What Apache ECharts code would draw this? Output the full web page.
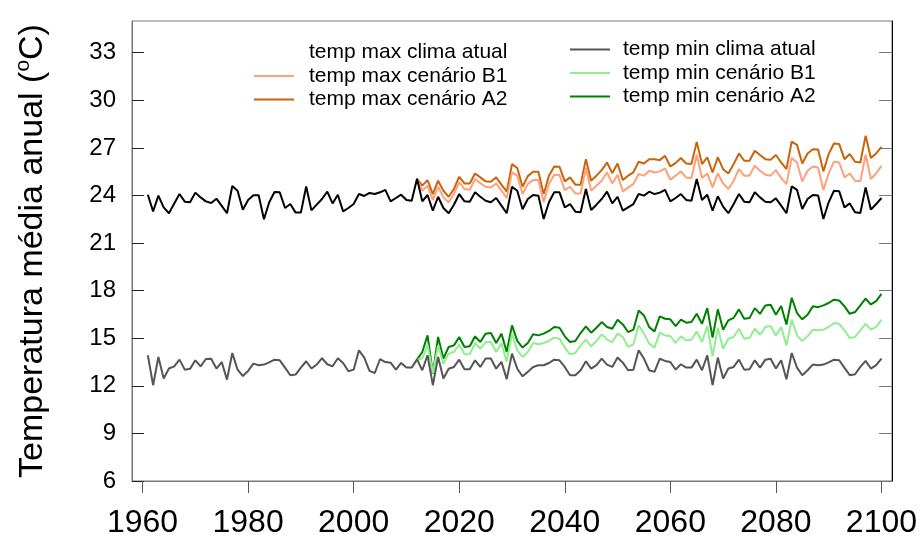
<!DOCTYPE html>
<html>
<head>
<meta charset="utf-8">
<script src="https://cdn.jsdelivr.net/npm/echarts@6/dist/echarts.min.js"></script>
<style>
  html, body { margin: 0; padding: 0; background: #ffffff; }
  #container { width: 921px; height: 542px; }
</style>
</head>
<body>
<div id="container"></div>
<script>
// anos: clima atual de 1961 a 2100, cenarios de 2012 a 2100
var firstYear = 1961;
var scenarioStart = 2012;

var xTicks = [1960, 1980, 2000, 2020, 2040, 2060, 2080, 2100];
var yTicks = [6, 9, 12, 15, 18, 21, 24, 27, 30, 33];

var tmaxAtual = [
    24.05, 23.0, 23.99, 23.25, 22.88, 23.5, 24.09, 23.61, 23.57, 24.18, 23.88, 23.63, 23.53, 23.8, 23.34, 22.88,
    24.6, 24.3, 23.1, 23.72, 24.01, 24.01, 22.5, 23.57, 24.22, 24.2, 23.21, 23.46, 22.92, 22.92, 24.57, 23.06,
    23.42, 23.78, 24.24, 23.5, 24.05, 23.0, 23.21, 23.46, 24.09, 23.97, 24.16, 24.09, 24.2, 24.35, 23.63, 23.84,
    24.05, 23.72, 23.67, 25.05,
    23.63, 24.03, 23.04, 23.92, 23.21, 22.88, 23.42, 24.09, 23.63, 23.61, 24.2, 23.92, 23.67, 23.57, 23.84, 23.36,
    22.88, 24.55, 24.3, 23.13, 23.78, 24.03, 23.99, 22.52, 23.57, 24.2, 24.2, 23.25, 23.46, 22.98, 22.94, 24.41,
    23.09, 23.42, 23.78, 24.24, 23.5, 23.92, 23.04, 23.25, 23.46, 24.09, 23.99, 24.24,
    24.09, 24.18, 24.35, 23.63, 23.84, 24.09, 23.72, 23.67, 25.04, 23.72, 24.05, 23.04, 23.95, 23.3, 22.88, 23.46,
    24.09, 23.61, 23.57, 24.2, 23.88, 23.61, 23.57, 23.82, 23.36, 22.88, 24.57, 24.35, 23.15, 23.78, 24.03, 24.0,
    22.52, 23.57, 24.3, 24.26, 23.25, 23.5, 22.94, 22.9, 24.51, 23.11, 23.46, 23.84
];
var tmaxB1 = [
    25.04, 24.30, 24.62, 23.72, 24.55, 23.88, 23.57, 24.09, 24.83, 24.41, 24.36, 25.04, 24.78, 24.55, 24.51, 24.76,
    24.30, 23.84, 25.46, 25.25, 24.09, 24.72, 24.97, 24.97, 23.57, 24.72, 25.31, 25.29, 24.34, 24.55, 24.13, 24.13,
    25.73, 24.30, 24.62, 24.93, 25.46, 24.76, 25.31, 24.26, 24.51, 24.72, 25.35, 25.25, 25.56,
    25.45, 25.52, 25.71, 24.99, 25.25, 25.52, 25.14, 25.10, 26.57, 25.10, 25.39, 24.51, 25.39, 24.76, 24.41, 24.93,
    25.66, 25.25, 25.25, 25.87, 25.56, 25.31, 25.25, 25.60, 25.10, 24.72, 26.36, 26.08, 24.89, 25.56, 25.83, 25.77,
    24.34, 25.39, 26.13, 26.08, 25.14, 25.39, 24.93, 24.89, 26.57, 25.04, 25.39, 25.87
];
var tmaxA2 = [
    25.04, 24.62, 24.97, 24.09, 24.93, 24.30, 23.92, 24.41, 25.18, 24.76, 24.76, 25.39, 25.14, 24.89, 24.87, 25.14,
    24.68, 24.24, 25.98, 25.73, 24.55, 25.22, 25.50, 25.50, 24.09, 25.25, 25.83, 25.81, 24.89, 25.14, 24.68, 24.68,
    26.29, 24.93, 25.25, 25.60, 26.08, 25.41, 26.02, 24.97, 25.25, 25.46, 26.13, 26.02, 26.29,
    26.29, 26.23, 26.50, 25.83, 26.04, 26.36, 26.02, 25.98, 27.38, 25.98, 26.40, 25.45, 26.40, 25.66, 25.39, 25.98,
    26.65, 26.19, 26.19, 26.82, 26.55, 26.29, 26.25, 26.55, 26.08, 25.66, 27.40, 27.19, 26.02, 26.65, 26.92, 26.90,
    25.52, 26.61, 27.28, 27.24, 26.29, 26.61, 26.13, 26.08, 27.76, 26.36, 26.65, 27.07
];
var tminAtual = [
    13.93, 12.04, 13.82, 12.46, 13.09, 13.23, 13.65, 13.02, 13.07, 13.61, 13.23, 13.69, 13.71, 13.09, 13.50, 12.39,
    14.07, 13.02, 12.62, 12.94, 13.40, 13.30, 13.34, 13.48, 13.65, 13.61, 13.15, 12.67, 12.71, 13.15, 13.55, 13.09,
    13.34, 13.74, 13.36, 13.23, 13.74, 13.44, 12.92, 13.02, 14.24, 13.78, 12.94, 12.81, 13.69, 13.50, 13.46, 13.02,
    13.44, 13.15, 13.15, 13.67,
    12.98, 13.93, 12.04, 13.82, 12.46, 13.08, 13.19, 13.65, 13.04, 13.04, 13.61, 13.19, 13.72, 13.72, 13.08, 13.51,
    12.42, 14.03, 13.08, 12.60, 12.88, 13.19, 13.30, 13.30, 13.44, 13.65, 13.61, 13.19, 12.67, 12.67, 12.98, 13.55,
    13.08, 13.30, 13.72, 13.34, 13.19, 13.78, 13.46, 12.98, 13.02, 14.24, 13.72, 12.98,
    12.88, 13.71, 13.57, 13.50, 13.02, 13.36, 13.15, 13.15, 13.65, 12.98, 13.92, 12.04, 13.78, 12.46, 13.09, 13.19,
    13.65, 13.02, 13.04, 13.61, 13.15, 13.65, 13.71, 13.09, 13.61, 12.41, 14.07, 13.15, 12.67, 12.98, 13.34, 13.30,
    13.34, 13.48, 13.65, 13.61, 13.13, 12.67, 12.73, 13.19, 13.57, 13.09, 13.30, 13.71
];
var tminB1 = [
    13.65, 13.72, 14.60, 12.81, 14.55, 13.40, 14.03, 14.13, 14.60, 13.99, 13.99, 14.70, 14.34, 14.76, 14.76, 14.13,
    14.70, 13.51, 15.29, 14.24, 13.82, 14.13, 14.70, 14.62, 14.70, 14.83, 15.04, 14.97, 14.41, 13.99, 14.07, 14.55,
    14.91, 14.49, 14.83, 15.25, 14.91, 14.76, 15.29, 15.08, 14.45, 14.62, 15.81, 15.29, 14.66,
    14.41, 15.35, 15.18, 15.14, 14.70, 15.12, 14.87, 14.91, 15.43, 14.76, 15.77, 13.86, 15.66, 14.34, 14.97, 15.08,
    15.60, 14.97, 15.01, 15.60, 15.22, 15.71, 15.77, 15.18, 15.71, 14.55, 16.17, 15.18, 14.83, 15.12, 15.54, 15.50,
    15.54, 15.71, 15.96, 15.91, 15.50, 15.01, 15.08, 15.50, 15.91, 15.54, 15.71, 16.17
];
var tminA2 = [
    13.65, 14.13, 15.18, 12.77, 15.08, 13.72, 14.45, 14.55, 15.08, 14.45, 14.49, 15.12, 14.76, 15.29, 15.33, 14.70,
    15.29, 14.13, 15.81, 14.83, 14.41, 14.70, 15.25, 15.18, 15.29, 15.46, 15.71, 15.66, 15.12, 14.76, 14.83, 15.33,
    15.75, 15.35, 15.66, 16.02, 15.71, 15.60, 16.17, 15.87, 15.39, 15.54, 16.75, 16.44, 15.70,
    15.43, 16.38, 16.23, 16.19, 15.77, 16.17, 15.98, 16.02, 16.54, 15.91, 16.90, 15.04, 16.82, 15.54, 16.13, 16.29,
    16.82, 16.23, 16.27, 16.90, 16.54, 17.07, 17.11, 16.48, 17.03, 15.87, 17.55, 16.59, 16.19, 16.48, 17.01, 16.96,
    17.07, 17.22, 17.43, 17.38, 17.01, 16.54, 16.65, 17.07, 17.49, 17.13, 17.34, 17.80
];

function pares(start, values) {
    var out = [];
    for (var i = 0; i < values.length; i++) {
        out.push([start + i, values[i]]);
    }
    return out;
}

function linha(name, start, values, color) {
    return {
        name: name,
        type: 'line',
        data: pares(start, values),
        symbol: 'none',
        lineStyle: {color: color, width: 2},
        itemStyle: {color: color}
    };
}

var fonte = 'Liberation Sans, Arial, sans-serif';
var myChart = echarts.init(document.getElementById('container'));

var option = {
    backgroundColor: '#ffffff',
    animation: false,
    grid: {
        left: 132, right: 29, top: 21, bottom: 61,
        show: true, borderColor: '#777777', borderWidth: 1
    },
    legend: [{
        left: 249, top: 37, orient: 'vertical',
        icon: 'rect', itemWidth: 40, itemHeight: 2, itemGap: 2.5,
        textStyle: {fontFamily: fonte, fontSize: 21, color: '#000', lineHeight: 20, padding: [0, 0, 0, 10]},
        data: [
            {name: 'temp max clima atual', itemStyle: {opacity: 0}},
            'temp max cenário B1',
            'temp max cenário A2'
        ]
    }, {
        left: 565, top: 34, orient: 'vertical',
        icon: 'rect', itemWidth: 40, itemHeight: 2, itemGap: 2.5,
        textStyle: {fontFamily: fonte, fontSize: 21, color: '#000', lineHeight: 20, padding: [0, 0, 0, 8]},
        data: ['temp min clima atual', 'temp min cenário B1', 'temp min cenário A2']
    }],
    xAxis: {
        type: 'value', min: 1958, max: 2102,
        axisLine: {show: true, lineStyle: {color: '#777777'}},
        axisTick: {show: true, length: 12, lineStyle: {color: '#555555'}, customValues: xTicks},
        axisLabel: {
            fontFamily: fonte, fontSize: 32, color: '#000', margin: 26, customValues: xTicks,
            formatter: function (v) { return String(v); }
        },
        splitLine: {show: false}
    },
    yAxis: [{
        type: 'value', min: 6, max: 35, position: 'left',
        name: 'Temperatura média anual ({sup|o}C)',
        nameLocation: 'middle', nameGap: 80, nameRotate: 90,
        nameTextStyle: {
            fontFamily: fonte, fontSize: 34, color: '#000',
            rich: {sup: {fontFamily: fonte, fontSize: 21, color: '#000', padding: [0, 0, 18, 0]}}
        },
        axisLine: {show: true, lineStyle: {color: '#777777'}},
        axisTick: {show: true, inside: true, length: 12, lineStyle: {color: '#222222'}, customValues: yTicks},
        axisLabel: {fontFamily: fonte, fontSize: 24, color: '#000', margin: 16, customValues: yTicks},
        splitLine: {show: false}
    }, {
        type: 'value', min: 6, max: 35, position: 'right',
        axisLine: {show: true, lineStyle: {color: '#000000'}},
        axisTick: {show: true, inside: true, length: 13, lineStyle: {color: '#777777'}, customValues: yTicks},
        axisLabel: {show: false},
        splitLine: {show: false}
    }],
    series: [
        linha('temp max cenário A2', scenarioStart, tmaxA2, '#c8640a'),
        linha('temp max cenário B1', scenarioStart, tmaxB1, '#ffa07a'),
        linha('temp max clima atual', firstYear, tmaxAtual, '#000000'),
        linha('temp min cenário A2', scenarioStart, tminA2, '#008000'),
        linha('temp min cenário B1', scenarioStart, tminB1, '#90ee90'),
        linha('temp min clima atual', firstYear, tminAtual, '#555555')
    ]
};
myChart.setOption(option);
</script>
</body>
</html>
